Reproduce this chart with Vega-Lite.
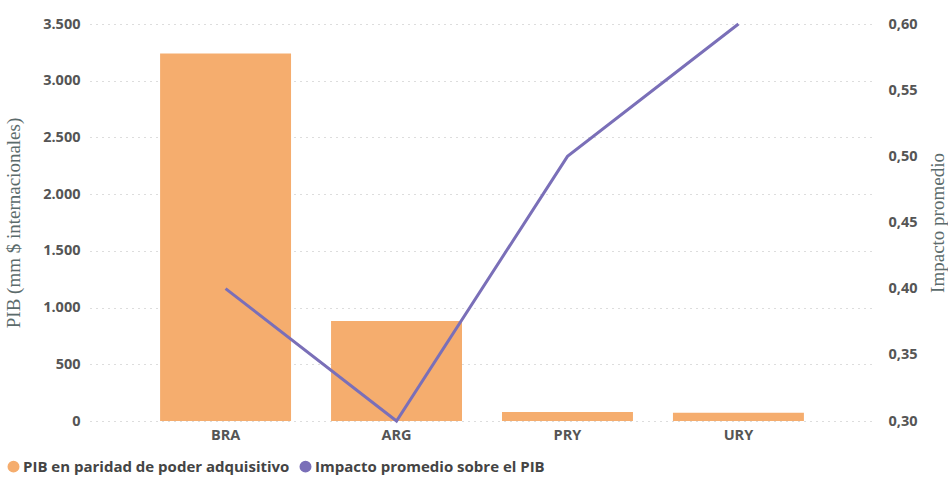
{
  "$schema": "https://vega.github.io/schema/vega-lite/v6.json",
  "width": 784,
  "height": 397,
  "autosize": {"type": "none"},
  "padding": {"left": 90, "top": 24, "right": 74, "bottom": 56},
  "config": {
    "view": {"stroke": null},
    "locale": {"number": {"decimal": ",", "thousands": ".", "grouping": [3], "currency": ["", "$"]}},
    "axis": {"labelFont": "Open Sans", "labelFontWeight": "bold", "labelFontSize": 14.5, "labelColor": "#555555", "domain": false, "ticks": false, "titleFont": "Liberation Serif", "titleFontWeight": "normal", "titleFontSize": 19, "titleColor": "#5b6b6b"}
  },
  "data": {"values": [
    {"pais": "BRA", "pib": 3240, "impacto": 0.40},
    {"pais": "ARG", "pib": 882, "impacto": 0.30},
    {"pais": "PRY", "pib": 80, "impacto": 0.50},
    {"pais": "URY", "pib": 72, "impacto": 0.60}
  ]},
  "encoding": {
    "x": {"field": "pais", "type": "nominal", "sort": null,
      "scale": {"paddingInner": 0.234, "paddingOuter": 0.41},
      "axis": {"title": null, "labelAngle": 0, "labelPadding": 7, "grid": false}}
  },
  "layer": [
    {
      "mark": {"type": "bar", "color": "#F5AD6E"},
      "encoding": {
        "y": {"field": "pib", "type": "quantitative",
          "scale": {"domain": [0, 3500]},
          "axis": {"title": "PIB (mm $ internacionales)", "tickCount": 7, "format": ",.0f", "labelPadding": 10, "titlePadding": 19, "grid": true, "gridDash": [1, 5], "gridColor": "#bbbbbb", "gridWidth": 1.2}},
        "color": {"datum": "PIB en paridad de poder adquisitivo", "type": "nominal",
          "scale": {"domain": ["PIB en paridad de poder adquisitivo", "Impacto promedio sobre el PIB"], "range": ["#F5AD6E", "#7A6FB8"]},
          "legend": {"title": null, "orient": "none", "legendX": -84, "legendY": 435, "direction": "horizontal", "symbolType": "circle", "symbolSize": 110, "labelFont": "Open Sans", "labelFontWeight": "bold", "labelFontSize": 15, "labelColor": "#444444", "labelLimit": 0, "columnPadding": 7, "labelOffset": 2,
            "encode": {"symbols": {"update": {"fill": {"scale": "color", "field": "value"}, "stroke": {"value": "transparent"}, "opacity": {"value": 1}}}}}
        }
      }
    },
    {
      "mark": {"type": "line", "strokeWidth": 3, "color": "#7A6FB8"},
      "encoding": {
        "y": {"field": "impacto", "type": "quantitative",
          "scale": {"domain": [0.3, 0.6], "zero": false},
          "axis": {"orient": "right", "title": "Impacto promedio", "titleAngle": 270, "tickCount": 7, "format": ".2f", "labelPadding": 14, "titlePadding": 30, "grid": false}},
        "color": {"datum": "Impacto promedio sobre el PIB", "type": "nominal"}
      }
    }
  ],
  "resolve": {"scale": {"y": "independent"}}
}
